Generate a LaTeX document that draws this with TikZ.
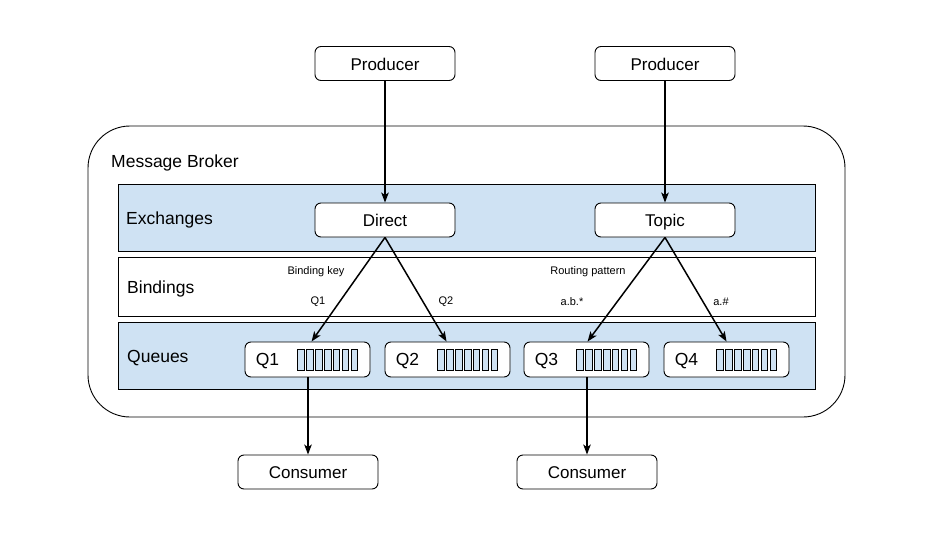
\documentclass[tikz,border=0pt]{standalone}
\usepackage{fontspec}
\setmainfont{Liberation Sans}
\usetikzlibrary{arrows.meta,calc}
\definecolor{bandblue}{RGB}{207,226,243}
\begin{document}
\begin{tikzpicture}[x=1pt,y=-1pt,
  box/.style={draw=black,line width=0.9pt,fill=white,rounded corners=6pt,minimum width=140pt,minimum height=34pt,inner sep=0pt,text height=13.5pt,text depth=0pt,font=\fontsize{17}{19}\selectfont},
  qbox/.style={draw=black,line width=0.9pt,fill=white,rounded corners=6pt,minimum width=125pt,minimum height=35pt,inner sep=0pt},
  band/.style={draw=black,line width=0.8pt},
  bandlabel/.style={anchor=west,font=\fontsize{17.5}{20}\selectfont,inner sep=0pt},
  small/.style={font=\fontsize{11}{13}\selectfont,inner sep=0pt},
  arr/.style={line width=1.5pt,-{Stealth[length=10pt,width=7.5pt,inset=2.5pt]}},
  cell/.style={draw=black,line width=0.7pt,fill=bandblue}
]
\useasboundingbox (0,0) rectangle (932,535);
\fill[white] (0,0) rectangle (932,535);

% outer broker
\draw[line width=0.9pt,rounded corners=42pt] (88,126) rectangle (845,417);
\node[anchor=west,inner sep=0pt,font=\fontsize{17.5}{20}\selectfont] (mb) at (111,162.5) {Message Broker};

% bands
\draw[band,fill=bandblue] (118,184) rectangle (815,251);
\draw[band,fill=white] (118,257) rectangle (815,316);
\draw[band,fill=bandblue] (118,322) rectangle (815,389);
\node[bandlabel] (lex) at (126,220) {Exchanges};
\node[bandlabel] (lbi) at (127,289) {Bindings};
\node[bandlabel] (lqu) at (127,358) {Queues};

% producers and exchanges
\node[box] (p1) at (385,63.5) {Producer};
\node[box] (p2) at (665,63.5) {Producer};
\node[box] (direct) at (385,220) {Direct};
\node[box] (topic) at (665,220) {Topic};

% queues
\foreach \n/\x in {1/307.5,2/447.5,3/586.5,4/726.5}{
  \node[qbox] (q\n) at (\x,359.5) {};
  \node[anchor=center,inner sep=0pt,font=\fontsize{17.5}{20}\selectfont] (ql\n) at ($(q\n.west)+(23,2)$) {Q\n};
  \foreach \k in {0,...,6}{
    \draw[cell] ($(q\n.west)+(53+\k*8.9,-10.5)$) rectangle ++(6.6,21);
  }
}

% consumers
\node[box] (c1) at (308,472) {Consumer};
\node[box] (c2) at (587,472) {Consumer};

% binding labels
\node[small] (bk) at (316,271.5) {Binding key};
\node[small] (bq1) at (318,302) {Q1};
\node[small] (bq2) at (446,302) {Q2};
\node[small] (rp) at (588,271.5) {Routing pattern};
\node[small] (rab) at (572,302) {a.b.*};
\node[small] (rah) at (721,302) {a.\#};

% connectors
\draw[arr] (p1.south) -- (direct.north);
\draw[arr] (p2.south) -- (topic.north);
\draw[arr] (direct.south) -- ($(q1.north west)+(67,0)$);
\draw[arr] (direct.south) -- ($(q2.north west)+(62,0)$);
\draw[arr] (topic.south) -- ($(q3.north west)+(64,0)$);
\draw[arr] (topic.south) -- ($(q4.north west)+(63,0)$);
\draw[arr] (q1.south -| c1.north) -- (c1.north);
\draw[arr] (q3.south -| c2.north) -- (c2.north);
\end{tikzpicture}
\end{document}
